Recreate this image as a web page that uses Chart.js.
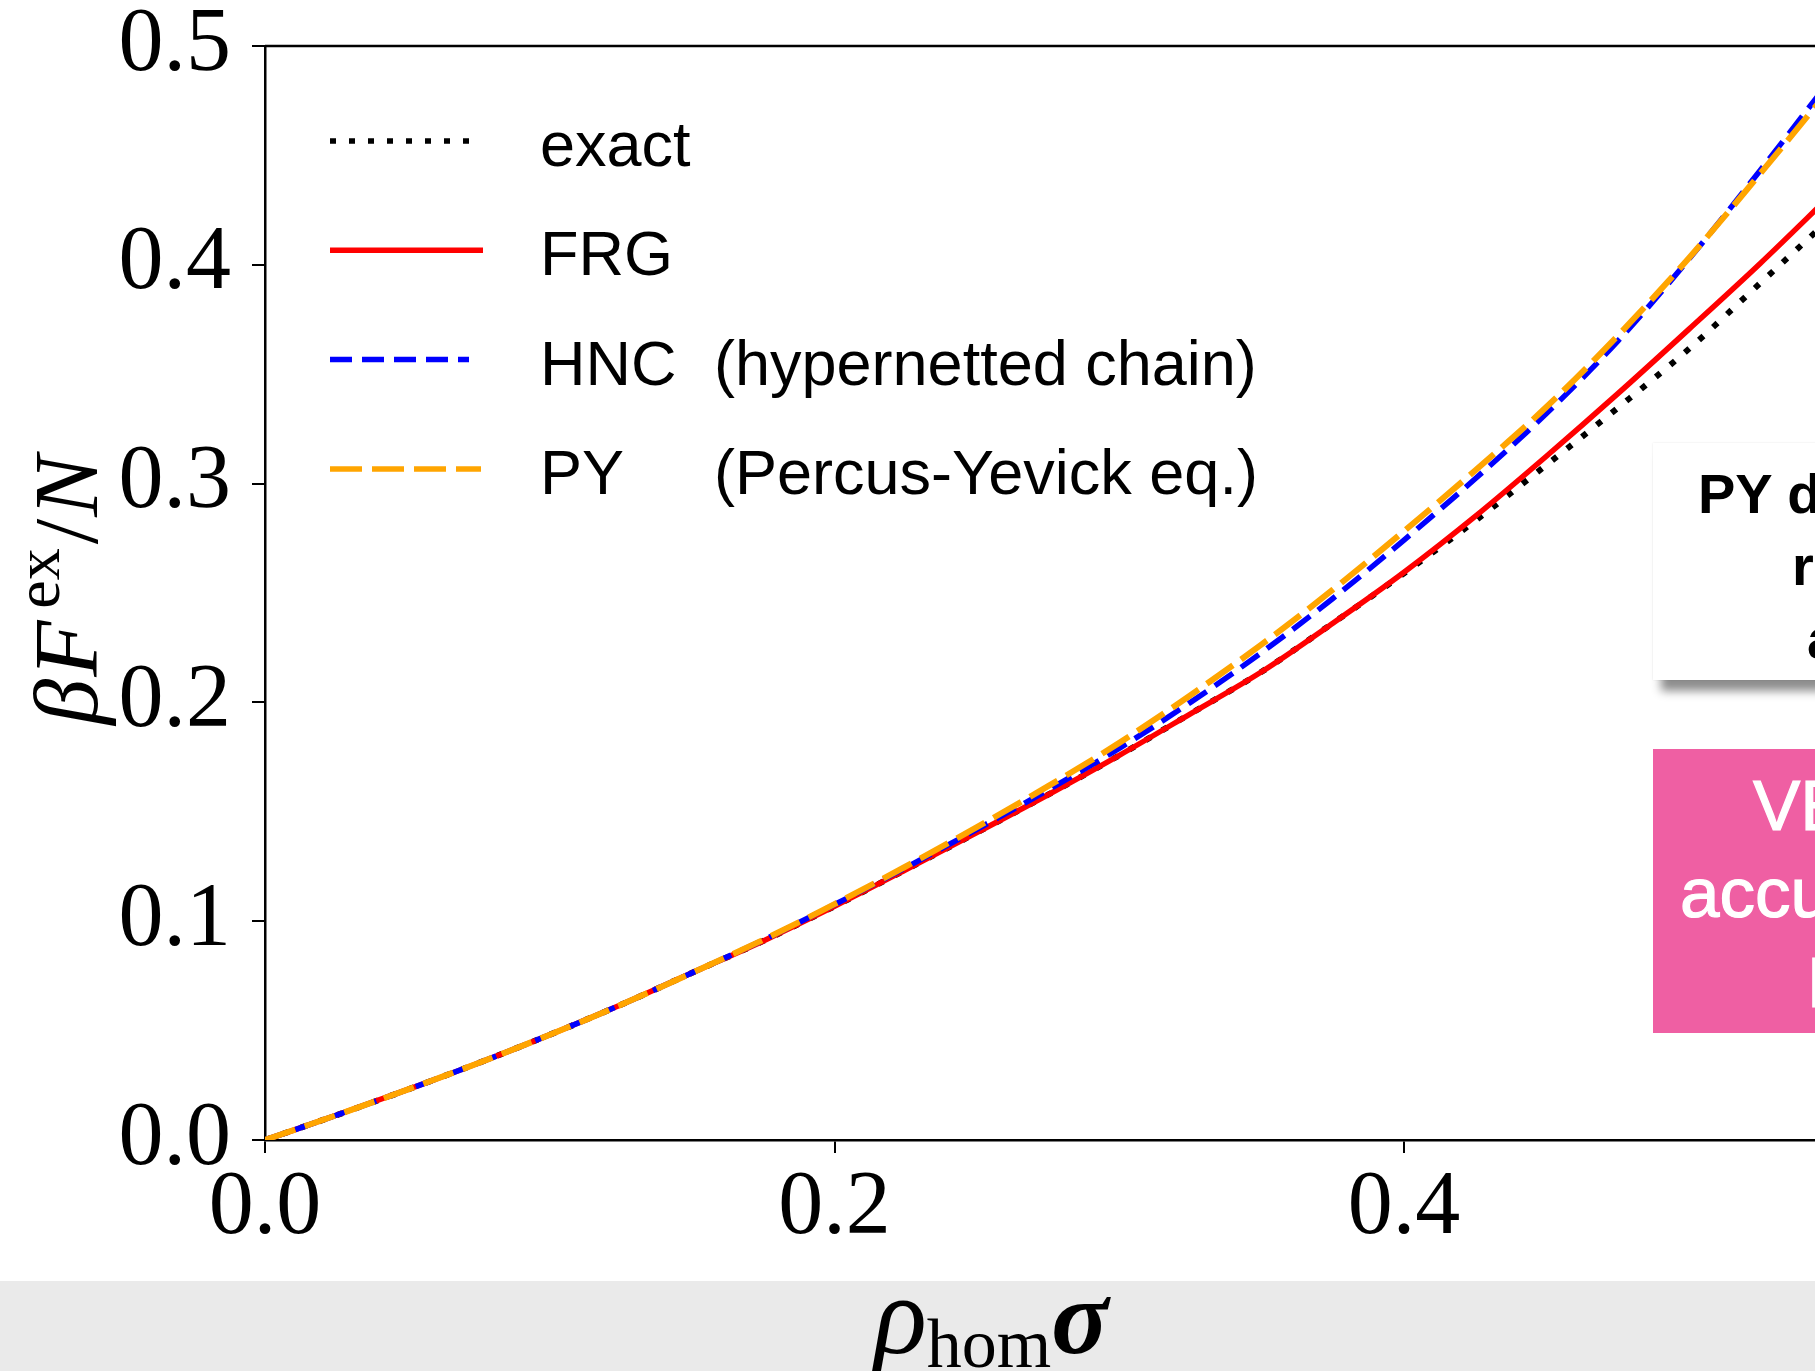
<!DOCTYPE html>
<html>
<head>
<meta charset="utf-8">
<title>Excess free energy</title>
<script src="https://cdn.jsdelivr.net/npm/chart.js@4.4.0/dist/chart.umd.min.js"></script>
<style>
  html, body { margin: 0; padding: 0; background: #fff; overflow: hidden; width: 1815px; height: 1371px; }
  #plot { position: absolute; left: 0; top: 0; }
  .box { position: absolute; width: 420px; font-family: "Liberation Sans", Arial, sans-serif; white-space: nowrap; }
  .box span { position: absolute; display: block; }
  #note { left: 1653px; top: 443px; height: 237px; background: #fff;
          box-shadow: 0 0 2px rgba(0,0,0,0.10), 8px 11px 9px rgba(0,0,0,0.45);
          font-weight: bold; font-size: 56px; line-height: 56px; color: #000; }
  #badge { left: 1653px; top: 749px; height: 284px; background: #ef5fa3;
           font-size: 71px; line-height: 71px; color: #fff; -webkit-text-stroke: 1.2px #fff; }
</style>
</head>
<body>
<canvas id="plot" width="2000" height="1371"></canvas>

<div class="box" id="note">
  <span style="left:45px; top:23px;">PY deviates from exact</span>
  <span style="left:139px; top:95px;">results</span>
  <span style="left:154px; top:168px;">at high density</span>
</div>
<div class="box" id="badge">
  <span style="left:100px; top:21px;">VERY</span>
  <span style="left:27px; top:108px;">accurate</span>
  <span style="left:154px; top:198px;">FRG</span>
</div>

<script>
// density grid and excess free energy per particle for each method
const rho   = [0, 0.025, 0.05, 0.075, 0.1, 0.125, 0.15, 0.175, 0.2, 0.225, 0.25, 0.275,
               0.3, 0.325, 0.35, 0.375, 0.4, 0.425, 0.45, 0.475, 0.5, 0.525, 0.55];
const exact = [0, .0113, .0230, .0352, .0481, .0618, .0764, .0910, .1068, .1235, .1405, .1578,
               .1758, .1948, .2140, .2362, .2590, .2830, .3085, .3345, .3615, .3915, .4215];
const frg   = [0, .0113, .0230, .0352, .0481, .0618, .0764, .0910, .1068, .1235, .1405, .1578,
               .1758, .1948, .2140, .2362, .2595, .2850, .3125, .3410, .3705, .4005, .4320];
const hnc   = [0, .0113, .0230, .0352, .0481, .0618, .0764, .0914, .1076, .1245, .1420, .1600,
               .1790, .2000, .2228, .2475, .2742, .3022, .3320, .3650, .4025, .4430, .4850];
const py    = [0, .0113, .0230, .0352, .0481, .0618, .0764, .0915, .1078, .1250, .1430, .1617,
               .1815, .2033, .2265, .2515, .2783, .3060, .3350, .3675, .4030, .4415, .4810];

const xTicks = [0, 0.2, 0.4, 0.6];
const yTicks = [0, 0.1, 0.2, 0.3, 0.4, 0.5];

const seriesNames = ['exact', 'FRG', 'HNC', 'PY'];
const seriesNotes = ['', '', '(hypernetted chain)', '(Percus-Yevick eq.)'];

const pts = ys => rho.map((x, i) => ({ x: x, y: ys[i] }));

const datasets = [
  { label: 'exact', data: pts(exact), borderColor: '#000000', borderWidth: 6,   borderDash: [6, 13],  order: 4 },
  { label: 'FRG',   data: pts(frg),   borderColor: '#ff0000', borderWidth: 5.5, borderDash: [],       order: 3 },
  { label: 'HNC',   data: pts(hnc),   borderColor: '#0000ff', borderWidth: 5.5, borderDash: [22, 10], order: 2 },
  { label: 'PY',    data: pts(py),    borderColor: '#ffa500', borderWidth: 6,   borderDash: [32, 10], order: 1 }
];
datasets.forEach(d => {
  d.pointRadius = 0;
  d.fill = false;
  d.cubicInterpolationMode = 'monotone';
});

// frame, legend and axis titles
const decor = {
  id: 'decor',
  beforeDraw(chart) {
    const ctx = chart.ctx;
    ctx.save();
    ctx.fillStyle = '#ffffff';
    ctx.fillRect(0, 0, chart.width, chart.height);
    ctx.fillStyle = '#eaeaea';
    ctx.fillRect(0, 1281, chart.width, chart.height - 1281);
    ctx.restore();
  },
  afterDraw(chart) {
    const ctx = chart.ctx;
    const a = chart.chartArea;
    ctx.save();

    ctx.strokeStyle = '#000';
    ctx.lineWidth = 2.5;
    ctx.beginPath();
    ctx.moveTo(a.left, a.top);
    ctx.lineTo(a.right, a.top);
    ctx.lineTo(a.right, a.bottom);
    ctx.stroke();

    // legend
    ctx.font = '63px "Liberation Sans", Arial, sans-serif';
    ctx.textBaseline = 'alphabetic';
    ctx.fillStyle = '#000';
    seriesNames.forEach((name, i) => {
      const ds = chart.data.datasets[i];
      const y = 141 + i * 109.3;
      ctx.save();
      ctx.strokeStyle = ds.borderColor;
      ctx.lineWidth = 5.5;
      ctx.setLineDash(ds.borderDash);
      ctx.beginPath();
      ctx.moveTo(330, y);
      ctx.lineTo(i === 1 ? 483 : (i === 3 ? 481 : 469), y);
      ctx.stroke();
      ctx.restore();
      ctx.fillText(name, 540, y + 25);
      if (seriesNotes[i]) ctx.fillText(seriesNotes[i], 714, y + 25);
    });

    // y title: beta F^ex / N
    ctx.save();
    ctx.translate(97, 590);
    ctx.rotate(-Math.PI / 2);
    const it = 'italic 92px "Liberation Serif", serif';
    const rm = '92px "Liberation Serif", serif';
    const sup = '64px "Liberation Serif", serif';
    const parts = [
      { t: '\u03b2', f: it, dy: 0, gap: 2 },
      { t: 'F', f: it, dy: 0, gap: 12 },
      { t: 'ex', f: sup, dy: -38, gap: 4 },
      { t: '/', f: rm, dy: 0, gap: 2 },
      { t: 'N', f: it, dy: 0, gap: 0 }
    ];
    let w = 0;
    parts.forEach(p => { ctx.font = p.f; p.w = ctx.measureText(p.t).width; w += p.w + p.gap; });
    let u = -w / 2;
    parts.forEach(p => { ctx.font = p.f; ctx.fillText(p.t, u, p.dy); u += p.w + p.gap; });
    ctx.restore();

    // x title: rho_hom sigma
    let x = 874;
    ctx.font = 'italic 110px "Liberation Serif", serif';
    ctx.fillText('\u03c1', x, 1353);
    x += ctx.measureText('\u03c1').width;
    ctx.font = '70px "Liberation Serif", serif';
    ctx.fillText('hom', x, 1367);
    x += ctx.measureText('hom').width;
    ctx.font = 'bold italic 106px "Liberation Serif", serif';
    ctx.fillText('\u03c3', x, 1353);

    ctx.restore();
  }
};

const tickFont = { family: '"Liberation Serif", serif', size: 90, lineHeight: 1 };

new Chart(document.getElementById('plot'), {
  type: 'line',
  data: { datasets: datasets },
  plugins: [decor],
  options: {
    responsive: false,
    animation: false,
    devicePixelRatio: 1,
    layout: { padding: { left: 0, top: 46, right: 26.5, bottom: 0 } },
    plugins: { legend: { display: false }, tooltip: { enabled: false } },
    scales: {
      x: {
        type: 'linear',
        min: 0,
        max: 0.6,
        afterFit: s => { s.height = 231; s.paddingLeft = 0; s.paddingRight = 0; },
        afterBuildTicks: s => { s.ticks = xTicks.map(v => ({ value: v })); },
        ticks: { color: '#000', font: tickFont, padding: 11, maxRotation: 0,
                 callback: v => v.toFixed(1) },
        grid: { drawOnChartArea: false, drawTicks: true, tickLength: 13, color: '#000', lineWidth: 2 },
        border: { display: true, color: '#000', width: 2.5 }
      },
      y: {
        min: 0,
        max: 0.5,
        afterFit: s => { s.width = 265; s.paddingTop = 0; s.paddingBottom = 0; },
        afterBuildTicks: s => { s.ticks = yTicks.map(v => ({ value: v })); },
        ticks: { color: '#000', font: tickFont, padding: 21,
                 callback: v => v.toFixed(1) },
        grid: { drawOnChartArea: false, drawTicks: true, tickLength: 13, color: '#000', lineWidth: 2 },
        border: { display: true, color: '#000', width: 2.5 }
      }
    }
  }
});
</script>
</body>
</html>
